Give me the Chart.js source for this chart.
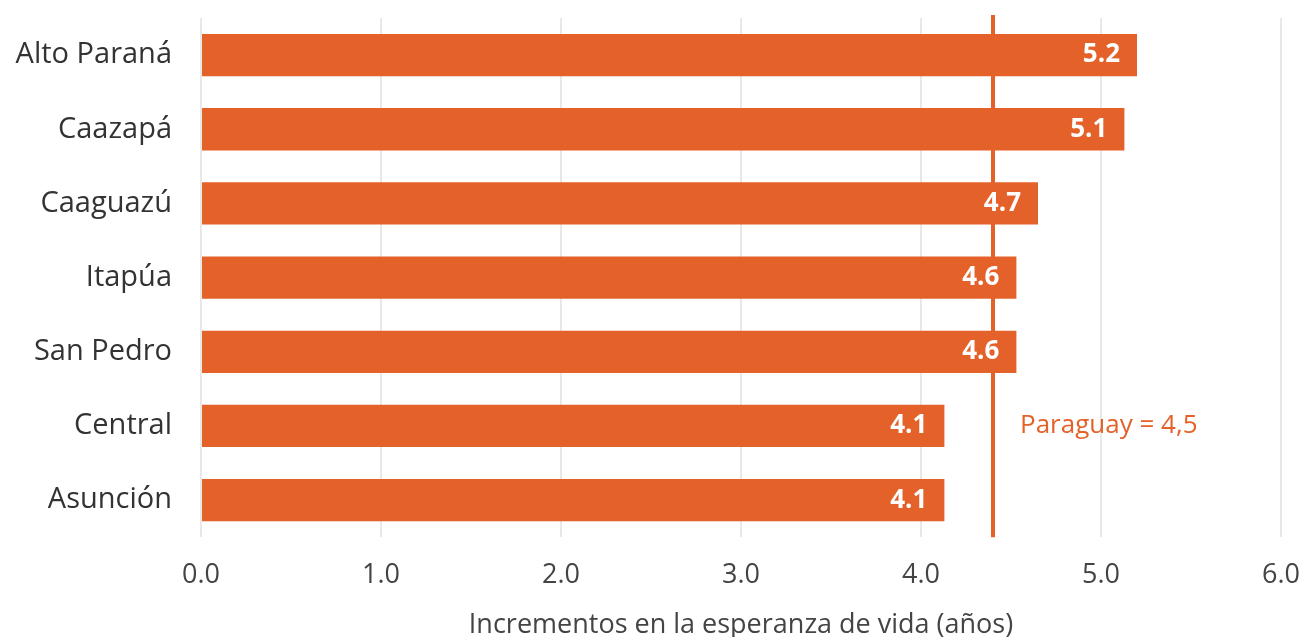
<!DOCTYPE html>
<html>
<head>
<meta charset="utf-8">
<script src="https://cdn.jsdelivr.net/npm/chart.js@4"></script>
<style>
  html, body { margin: 0; padding: 0; background: #fff; }
  #wrap { width: 1306px; height: 637px; }
</style>
</head>
<body>
<div id="wrap"><canvas id="chart" width="1306" height="637"></canvas></div>
<script>
var departamentos = ['Alto Paraná', 'Caazapá', 'Caaguazú', 'Itapúa', 'San Pedro', 'Central', 'Asunción'];
var incrementos = [5.2, 5.13, 4.65, 4.53, 4.53, 4.13, 4.13];
var etiquetas = ['5.2', '5.1', '4.7', '4.6', '4.6', '4.1', '4.1'];
var promedioPais = 4.4;
var textoPais = 'Paraguay = 4,5';
var tituloEje = 'Incrementos en la esperanza de vida (años)';

var naranja = '#E4622A';
var fuente = 'Open Sans';

// linea de Paraguay detras de las barras
var lineaPais = {
  id: 'lineaPais',
  beforeDatasetsDraw: function (chart) {
    var ctx = chart.ctx;
    var x = chart.scales.x.getPixelForValue(promedioPais);
    var area = chart.chartArea;
    ctx.save();
    ctx.strokeStyle = naranja;
    ctx.lineWidth = 4;
    ctx.beginPath();
    ctx.moveTo(x, area.top - 3);
    ctx.lineTo(x, area.bottom);
    ctx.stroke();

    var yLab = chart.scales.y.getPixelForValue(5);
    ctx.fillStyle = naranja;
    ctx.font = '26px "' + fuente + '"';
    ctx.textAlign = 'left';
    ctx.textBaseline = 'middle';
    ctx.fillText(textoPais, x + 27, yLab);
    ctx.restore();
  },
  // etiquetas blancas dentro de las barras
  afterDatasetsDraw: function (chart) {
    var ctx = chart.ctx;
    var meta = chart.getDatasetMeta(0);
    ctx.save();
    ctx.fillStyle = '#fff';
    ctx.font = 'bold 26px "' + fuente + '"';
    ctx.textAlign = 'right';
    ctx.textBaseline = 'middle';
    meta.data.forEach(function (bar, i) {
      ctx.fillText(etiquetas[i], bar.x - 17, bar.y);
    });
    ctx.restore();
  }
};

var ctx = document.getElementById('chart').getContext('2d');
var chart = new Chart(ctx, {
  type: 'bar',
  data: {
    labels: departamentos,
    datasets: [{
      data: incrementos,
      backgroundColor: naranja,
      barPercentage: 0.57,
      categoryPercentage: 1
    }]
  },
  options: {
    indexAxis: 'y',
    responsive: false,
    animation: false,
    layout: { padding: { top: 18, right: 25, bottom: -5, left: 4 } },
    plugins: {
      legend: { display: false },
      tooltip: { enabled: false }
    },
    scales: {
      x: {
        min: 0,
        max: 6,
        afterFit: function (scale) { scale.paddingRight = 0; },
        ticks: {
          stepSize: 1,
          color: '#444',
          font: { family: fuente, size: 27 },
          padding: 22,
          callback: function (v) { return v.toFixed(1); }
        },
        grid: { color: '#e8e8e8', lineWidth: 2, drawTicks: false },
        border: { display: false },
        title: {
          display: true,
          text: tituloEje,
          color: '#444',
          font: { family: fuente, size: 27 },
          padding: { top: -4, bottom: 0 }
        }
      },
      y: {
        afterFit: function (scale) {
          scale.width = 197;
          scale.paddingTop = 0;
          scale.paddingBottom = 0;
        },
        ticks: {
          color: '#333',
          font: { family: fuente, size: 29 },
          padding: 29
        },
        grid: { display: false, drawTicks: false },
        border: { display: false }
      }
    }
  },
  plugins: [lineaPais]
});
</script>
</body>
</html>
